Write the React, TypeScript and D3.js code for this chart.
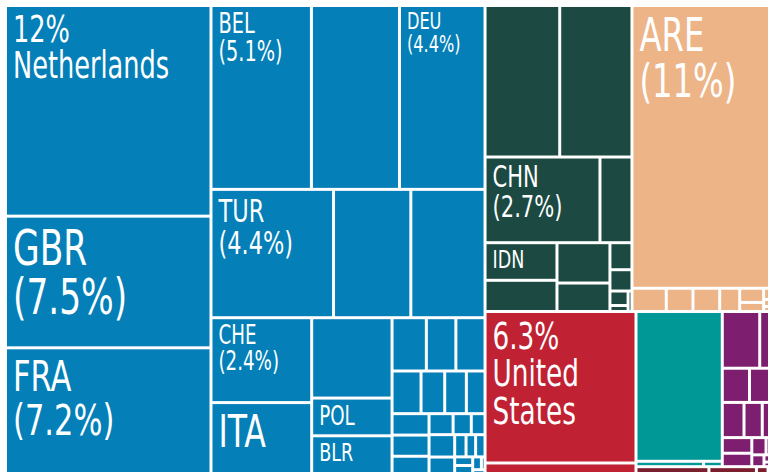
import React from "react";
import * as d3 from "d3";

// ---------- DATA (shares of total, %) ----------
const groupKeys = ["europe", "asia", "gulf", "northAmerica", "southAmerica", "africa", "oceania"];

const europeIds = ["NLD", "GBR", "FRA", "BEL", "E05", "DEU", "TUR", "E08", "E09", "CHE", "ITA", "E12", "POL", "BLR",
  "E15", "E16", "E17", "E18", "E19", "E20", "E21", "E22", "E23", "E24", "E25", "E26", "E27",
  "E28", "E29", "E30", "E31", "E32", "E33", "E34", "E35", "E36", "E37"];
const europeShares = [12.0, 7.5, 7.16, 5.12, 4.49, 4.36, 4.36, 2.75, 2.64, 2.37, 1.98, 1.79, 0.84, 0.84,
  0.507, 0.436, 0.431, 0.343, 0.28, 0.256, 0.221, 0.22, 0.217, 0.177, 0.14, 0.106, 0.08,
  0.159, 0.117, 0.07, 0.059, 0.058, 0.043, 0.04, 0.031, 0.013, 0.013];

const asiaIds = ["A01", "A02", "CHN", "A04", "IDN", "A06", "A07", "A08", "A09", "A10", "A11", "A12", "A13"];
const asiaShares = [3.136, 3.035, 2.73, 0.76, 0.75, 0.622, 0.592, 0.418, 0.165, 0.13, 0.073, 0.03, 0.022];

const gulfIds = ["ARE", "P02", "P03", "P04", "P05", "P06", "P07", "P08", "P09", "P10"];
const gulfShares = [11.33, 0.221, 0.172, 0.172, 0.129, 0.094, 0.06, 0.04, 0.025, 0.018];

const northAmericaIds = ["USA", "R02"];
const northAmericaShares = [6.34, 0.44];

const southAmericaIds = ["T01", "T02", "T03"];
const southAmericaShares = [3.583, 0.101, 0.028];

const africaIds = ["U01", "U02", "U03", "U04", "U05", "U06", "U07", "U08", "U09", "U10", "U11", "U12", "U13", "U14"];
const africaShares = [0.589, 0.264, 0.258, 0.256, 0.212, 0.178, 0.139, 0.128, 0.11, 0.068, 0.05, 0.04, 0.025, 0.016];

const oceaniaIds = ["M01", "M02", "M03", "M04"];
const oceaniaShares = [0.138, 0.09, 0.022, 0.016];

// labels shown on the chart
const labelCodes = ["NLD", "GBR", "FRA", "BEL", "DEU", "TUR", "CHE", "ITA", "POL", "BLR", "CHN", "IDN", "ARE", "USA"];
const codeOnlyLabels = ["ITA", "POL", "BLR", "IDN"];
const fullNameLabels: Record<string, string[]> = { NLD: ["Netherlands"], USA: ["United", "States"] };

// ---------- STYLE ----------
const groupColors: Record<string, string> = {
  europe: "#047fb7",
  asia: "#1c4a43",
  gulf: "#edb487",
  northAmerica: "#c02133",
  southAmerica: "#009797",
  africa: "#7d1e6f",
  oceania: "#7b1f2e",
};
const labelFontSize: Record<string, number> = {
  NLD: 36.5, GBR: 49, FRA: 43.5, BEL: 27.5, DEU: 23, TUR: 32, CHE: 26, ITA: 45,
  POL: 26, BLR: 25, CHN: 30, IDN: 25, ARE: 46, USA: 37.5,
};
const FONT = "'DejaVu Sans Condensed', 'Liberation Sans Narrow', sans-serif";
const CAP = 0.729;
const W = 768;
const H = 476;
const BOX = { x: 5.5, y: 5.5, w: 771, h: 468 };
const GAP = 1.5;
const SQUEEZE = 0.78;

const groupIds = [europeIds, asiaIds, gulfIds, northAmericaIds, southAmericaIds, africaIds, oceaniaIds];
const groupShares = [europeShares, asiaShares, gulfShares, northAmericaShares, southAmericaShares, africaShares, oceaniaShares];

const fmt = d3.format(".2r");

export default function App() {
  const data = {
    name: "root",
    children: groupKeys.map((g, gi) => ({
      name: g,
      children: groupIds[gi].map((id, i) => ({ name: id, value: groupShares[gi][i] })),
    })),
  };
  const root = d3.hierarchy<any>(data).sum((d: any) => d.value ?? 0);
  d3.treemap<any>().tile(d3.treemapSquarify).size([BOX.w, BOX.h])(root);
  const leaves = root.leaves() as any[];

  return (
    <svg width={W} height={H} style={{ position: "absolute", left: 0, top: 0, background: "#fff" }}>
      <rect width={W} height={H} fill="#fff" />
      <g transform={`translate(${BOX.x},${BOX.y})`}>
        {leaves.map((l) => {
          const w = Math.max(0, l.x1 - l.x0 - 2 * GAP);
          const h = Math.max(0, l.y1 - l.y0 - 2 * GAP);
          return (
            <rect key={l.data.name} x={l.x0 + GAP} y={l.y0 + GAP} width={w} height={h}
              fill={groupColors[l.parent.data.name]} />
          );
        })}
        {leaves.filter((l) => labelCodes.includes(l.data.name)).map((l) => {
          const code = l.data.name as string;
          const s = labelFontSize[code];
          const pct = fmt(l.value) + "%";
          let lines: string[];
          if (fullNameLabels[code]) lines = [pct, ...fullNameLabels[code]];
          else if (codeOnlyLabels.includes(code)) lines = [code];
          else lines = [code, `(${pct})`];
          const x = l.x0 + GAP + 6;
          const y = l.y0 + GAP + 0.23 * s + CAP * s;
          return (
            <g key={"t" + code} transform={`translate(${x},${y}) scale(${SQUEEZE},1)`}>
              <text fill="#fff" fontFamily={FONT} fontSize={s}>
                {lines.map((ln, i) => (
                  <tspan key={i} x={0} y={i * s * 1.0}>{ln}</tspan>
                ))}
              </text>
            </g>
          );
        })}
      </g>
    </svg>
  );
}
